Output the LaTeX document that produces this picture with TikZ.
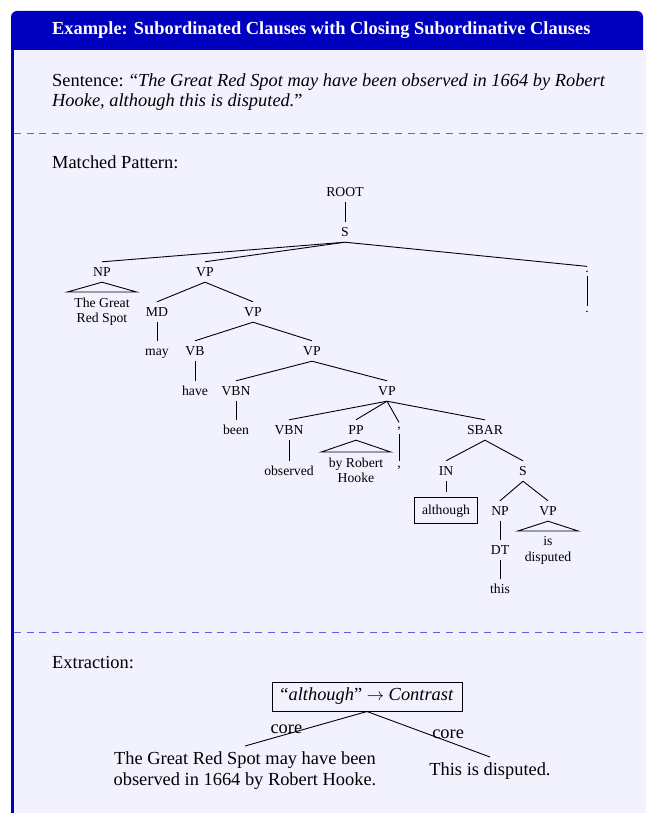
\documentclass[tikz,border=0pt]{standalone}
\usepackage{fontspec}
\setmainfont{Liberation Serif}
\definecolor{framec}{rgb}{0,0,0.75}
\definecolor{bodyc}{rgb}{0.95,0.95,1}
\definecolor{sepc}{RGB}{95,95,225}
\newcommand{\bodyfont}{\fontsize{18.4}{20}\selectfont}
\newcommand{\treefont}{\fontsize{13.7}{15.5}\selectfont}
\newcommand{\extfont}{\fontsize{18.4}{21}\selectfont}
\tikzset{
  lbl/.style={font=\treefont, inner sep=0pt, text height=10pt, text depth=1pt, minimum height=20pt},
  punct/.style={font=\treefont, inner sep=4pt, anchor=base},
  phrase/.style={font=\treefont, align=center, anchor=north, inner xsep=0pt, inner ysep=5.5pt, minimum width=#1},
  edge/.style={line width=0.9pt},
  sepline/.style={sepc, line width=1pt, dash pattern=on 7pt off 5.7pt},
  section/.style={font=\bodyfont, anchor=base west, inner sep=0pt}
}
\begin{document}
\begin{tikzpicture}[x=1pt,y=-1pt]
\useasboundingbox (0,0) rectangle (646,813);
\clip (0,0) rectangle (646,813);
% frame
\fill[framec, rounded corners=6pt] (11,840) rectangle (643,11);
\fill[bodyc] (14,50) rectangle (660,840);
\node[section, font=\bodyfont\bfseries, text=white] (title) at (52,35)
  {Example: Subordinated Clauses with Closing Subordinative Clauses};
\node[section, align=left] (sent) at (52,106.7)
  {Sentence: “\textit{The Great Red Spot may have been observed in 1664 by Robert}\\\textit{Hooke, although this is disputed.}”};
\draw[sepline] (14,134) -- (646,134);
\node[section] (mp) at (52,168) {Matched Pattern:};
\draw[sepline] (14,632) -- (646,632);
\node[section] (ex) at (52,668) {Extraction:};

% tree nodes
\node[lbl] (root) at (345,192) {ROOT};
\node[lbl] (s) at (345,232) {S};
\node[lbl] (np) at (102,272) {NP};
\node[lbl] (vpa) at (205,272) {VP};
\node[punct] (pA) at (587,272) {.};
\node[punct] (pAl) at (587,312) {.};
\node[phrase=69] (npl) at (102,292) {The Great\\Red Spot};
\node[lbl] (md) at (157,312) {MD};
\node[lbl] (vpb) at (253,312) {VP};
\node[lbl] (may) at (157,351) {may};
\node[lbl] (vb) at (195,351) {VB};
\node[lbl] (vpc) at (312,351) {VP};
\node[lbl] (have) at (195,391) {have};
\node[lbl] (vbn) at (236,391) {VBN};
\node[lbl] (vpd) at (387,391) {VP};
\node[lbl] (been) at (236,430) {been};
\node[lbl] (vbnb) at (289,430) {VBN};
\node[lbl] (pp) at (356,430) {PP};
\node[punct] (cA) at (399,428) {,};
\node[lbl] (sbar) at (485,430) {SBAR};
\node[lbl] (observed) at (289,471) {observed};
\node[phrase=69] (ppl) at (356,452) {by Robert\\Hooke};
\node[punct] (cAl) at (399,467) {,};
\node[lbl] (in) at (446,471) {IN};
\node[lbl] (sb) at (523,471) {S};
\node[lbl, draw, line width=0.9pt, minimum width=63pt, minimum height=26pt, outer sep=5pt] (although) at (446,510) {although};
\node[lbl] (npb) at (500,511) {NP};
\node[lbl] (vpe) at (548,511) {VP};
\node[phrase=60] (vpel) at (548,531) {is\\disputed};
\node[lbl] (dt) at (500,550) {DT};
\node[lbl] (this) at (500,589) {this};

% tree edges
\foreach \p/\c in {root/s, s/np, s/vpa, s/pA, pA/pAl, vpa/md, vpa/vpb, md/may,
  vpb/vb, vpb/vpc, vb/have, vpc/vbn, vpc/vpd, vbn/been, vpd/vbnb, vpd/pp, vpd/cA,
  vpd/sbar, vbnb/observed, cA/cAl, sbar/in, sbar/sb, in/although, sb/npb, sb/vpe,
  npb/dt, dt/this}
  \draw[edge] (\p.south) -- (\c.north);
\draw[edge] (np.south) -- (npl.north west) -- (npl.north east) -- cycle;
\draw[edge] (pp.south) -- (ppl.north west) -- (ppl.north east) -- cycle;
\draw[edge] (vpe.south) -- (vpel.north west) -- (vpel.north east) -- cycle;

% extraction
\node[draw, line width=1pt, font=\bodyfont, inner sep=0pt, minimum width=190pt, minimum height=29pt]
  (rel) at (367,696.5) {“\textit{although}” $\rightarrow$ \textit{Contrast}};
\node[font=\extfont, align=center, anchor=north, inner sep=6pt] (left) at (245,746)
  {The Great Red Spot may have been\\observed in 1664 by Robert Hooke.};
\node[font=\extfont, anchor=north, inner sep=6pt] (right) at (490,757) {This is disputed.};
\draw[edge] (rel.south) -- (left.north) node[midway, left, font=\bodyfont] {core};
\draw[edge] (rel.south) -- (right.north) node[midway, right, font=\bodyfont] {core};
\end{tikzpicture}
\end{document}
